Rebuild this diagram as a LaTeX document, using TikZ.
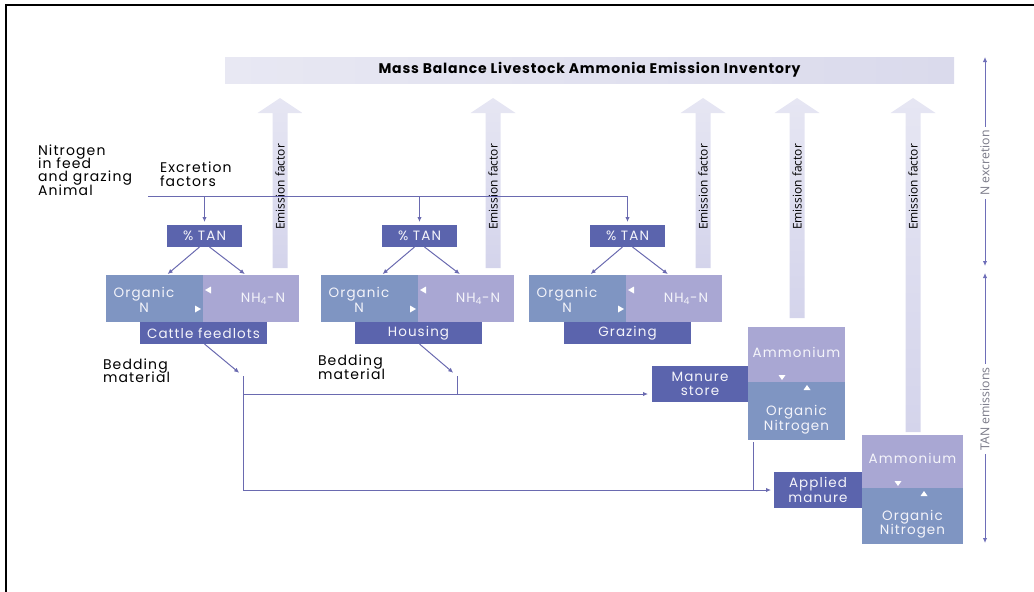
\documentclass[tikz,border=0pt]{standalone}
\usepackage{fontspec}
\setmainfont{Poppins}[LetterSpace=8]
\newfontfamily\titlefont{Poppins}[LetterSpace=6]
\newfontfamily\effont{Open Sans}
\usetikzlibrary{arrows.meta,calc}

\definecolor{dkblue}{HTML}{5B64AD}
\definecolor{steel}{HTML}{7F95C2}
\definecolor{lav}{HTML}{A9A7D3}
\definecolor{efill}{HTML}{D4D4EB}
\definecolor{efilltop}{HTML}{E6E6F3}
\definecolor{barleft}{HTML}{E8E8F3}
\definecolor{barright}{HTML}{DADAEC}
\definecolor{conncol}{HTML}{6A6AB0}
\definecolor{sidecol}{HTML}{6E6EB8}
\definecolor{sidetext}{HTML}{7A7A88}
\definecolor{boxtext}{HTML}{F4F4FA}

\newcommand\boxfont{\fontsize{13.5}{14.5}\selectfont}
\newcommand\plainfont{\fontsize{14}{13.4}\selectfont\lineskiplimit=-20pt\relax}

% wide pale arrow: x centre, bottom end of the shaft
\newcommand\efarrow[2]{%
  \shade[top color=efilltop, bottom color=efill]
    ({#1-7.5},#2) -- ({#1-7.5},113) -- ({#1-22.5},113) -- (#1,98)
    -- ({#1+22.5},113) -- ({#1+7.5},113) -- ({#1+7.5},#2) -- cycle;}

\begin{document}
\begin{tikzpicture}[x=1pt,y=-1pt,
  every node/.style={inner sep=0pt,outer sep=0pt},
  conn/.style={draw=conncol,line width=1pt},
  arr/.style={-{Latex[length=5pt,width=4.5pt]}},
  dbox/.style={fill=dkblue,text=boxtext,font=\boxfont,align=center},
  boxtxt/.style={text=boxtext,font=\boxfont,align=center},
  orgpart/.style={fill=steel},
  nhpart/.style={fill=lav},
  plain/.style={font=\plainfont,align=left,anchor=north west},
  eflabel/.style={font=\effont\fontsize{12}{13}\selectfont,rotate=90},
  sidearr/.style={draw=sidecol,line width=1pt,{Latex[length=5pt,width=4.5pt]}-{Latex[length=5pt,width=4.5pt]}},
  sidelab/.style={font=\effont\fontsize{12.3}{13}\selectfont,text=sidetext,fill=white,rotate=90,inner xsep=3pt,inner ysep=1pt},
  tri/.style={fill=white}
]
\useasboundingbox (0,0) rectangle (1034,592);

% frame
\draw[line width=2.5pt] (6,592) -- (6,5) -- (1034,5);

% inventory bar
\node[left color=barleft,right color=barright,minimum width=729pt,minimum height=26pt,
      font=\titlefont\fontsize{14}{16}\selectfont\bfseries] (title) at (589.5,70)
      {Mass Balance Livestock Ammonia Emission Inventory};

% emission factor arrows
\efarrow{280}{268}
\efarrow{493}{268}
\efarrow{703}{268}
\efarrow{797}{318}
\efarrow{913}{432}
\node[eflabel] (ef1) at (280,187) {Emission factor};
\node[eflabel] (ef2) at (493,187) {Emission factor};
\node[eflabel] (ef3) at (703,187) {Emission factor};
\node[eflabel] (ef4) at (797,187) {Emission factor};
\node[eflabel] (ef5) at (913,187) {Emission factor};

% side scale
\coordinate (nt) at (985,57);
\coordinate (nb) at (985,266);
\coordinate (tt) at (985,273);
\coordinate (tb) at (985,543);
\draw[sidearr] (nt) -- (nb);
\draw[sidearr] (tt) -- (tb);
\node[sidelab] (nlab) at (985,163) {N excretion};
\node[sidelab] (tlab) at (985,409) {TAN emissions};

% left texts
\node[plain] (feed) at (38,144.5) {Nitrogen\\in feed\\and grazing\\Animal};
\node[plain] (excr) at (160,162) {Excretion\\factors};
\node[plain] (bed1) at (103,358.5) {Bedding\\material};
\node[plain] (bed2) at (318,355) {Bedding\\material};

% % TAN boxes
\node[dbox,minimum width=75pt,minimum height=22pt] (tan1) at (204.5,236) {\% TAN};
\node[dbox,minimum width=75pt,minimum height=22pt] (tan2) at (419.5,236) {\% TAN};
\node[dbox,minimum width=75pt,minimum height=22pt] (tan3) at (627.5,236) {\% TAN};

% split boxes: organic N | NH4-N
\foreach \i/\xo/\xn in {1/154.5/251, 2/369.5/466, 3/577.5/674}{
  \node[orgpart,minimum width=97pt,minimum height=47pt] (org\i) at (\xo,298.5) {};
  \node[nhpart,minimum width=96pt,minimum height=47pt] (nh\i) at (\xn,298.5) {};
  \node[boxtxt] (org\i t) at ($(org\i)+(-10.5,1.5)$) {Organic\\N};
  \node[boxtxt] (nh\i t) at ($(nh\i)+(12,0)$) {NH\textsubscript{4}-N};
  \fill[tri] ($(org\i.east)+(2,-8.5)$) -- ++(6,-3.5) -- ++(0,7) -- cycle;
  \fill[tri] ($(org\i.east)+(-2,10.5)$) -- ++(-6,-3.5) -- ++(0,7) -- cycle;
}

% place labels
\node[dbox,minimum width=127pt,minimum height=22pt] (lab1) at (203.5,333) {Cattle feedlots};
\node[dbox,minimum width=127pt,minimum height=22pt] (lab2) at (418.5,333) {Housing};
\node[dbox,minimum width=127pt,minimum height=22pt] (lab3) at (627.5,333) {Grazing};

% manure store and its pools
\node[dbox,minimum width=96pt,minimum height=36pt] (store) at (700,384) {Manure\\store};
\node[nhpart,minimum width=97pt,minimum height=55pt] (amm1) at (796.5,354.5) {};
\node[orgpart,minimum width=97pt,minimum height=58pt] (orgb1) at (796.5,411) {};
\node[boxtxt] (amm1t) at (796.5,352) {Ammonium};
\node[boxtxt] (orgb1t) at (796.5,419.5) {Organic\\Nitrogen};
\fill[tri] ($(amm1.south)+(-18,-7)$) -- ++(7,0) -- ++(-3.5,5) -- cycle;
\fill[tri] ($(amm1.south)+(7,8)$) -- ++(7,0) -- ++(-3.5,-5) -- cycle;

% applied manure and its pools
\node[dbox,minimum width=88pt,minimum height=36pt] (applied) at (818,490) {Applied\\manure};
\node[nhpart,minimum width=101pt,minimum height=53pt] (amm2) at (912.5,461.5) {};
\node[orgpart,minimum width=101pt,minimum height=56pt] (orgb2) at (912.5,516) {};
\node[boxtxt] (amm2t) at (912.5,458) {Ammonium};
\node[boxtxt] (orgb2t) at (912.5,524) {Organic\\Nitrogen};
\fill[tri] ($(amm2.south)+(-18,-7)$) -- ++(7,0) -- ++(-3.5,5) -- cycle;
\fill[tri] ($(amm2.south)+(8,8)$) -- ++(7,0) -- ++(-3.5,-5) -- cycle;

% excretion line and drops
\coordinate (exl) at (148,196);
\draw[conn] (exl) -- (exl -| tan3);
\draw[conn,arr,shorten >=3pt] (exl -| tan1) -- (tan1.north);
\draw[conn,arr,shorten >=3pt] (exl -| tan2) -- (tan2.north);
\draw[conn,arr,shorten >=3pt] (exl -| tan3) -- (tan3.north);

% TAN split
\foreach \i in {1,2,3}{
  \draw[conn,arr,shorten >=1.5pt] ($(tan\i.south)+(-5,0)$) -- ($(org\i.north)+(12,0)$);
  \draw[conn,arr,shorten >=1.5pt] ($(tan\i.south)+(5,0)$) -- ($(nh\i.north)+(-5,0)$);
}

% bedding flows
\coordinate (j1) at (243,376);
\coordinate (j2) at (457,376);
\coordinate (mst) at ($(store.west)+(-4,10)$);
\draw[conn,arr,shorten >=5pt] ($(lab1.south)+(1,0)$) -- (j1);
\draw[conn,arr,shorten >=5pt] ($(lab2.south)+(1,0)$) -- (j2);
\draw[conn,arr] (j1 |- mst) -- (mst);
\draw[conn] (j2) -- (j2 |- mst);
\draw[conn,arr,shorten >=3pt] (j1) |- (applied.west);
\coordinate (dl) at ($(orgb1.south west)+(5,2)$);
\draw[conn] (dl) -- (dl |- applied.west);
\end{tikzpicture}
\end{document}
